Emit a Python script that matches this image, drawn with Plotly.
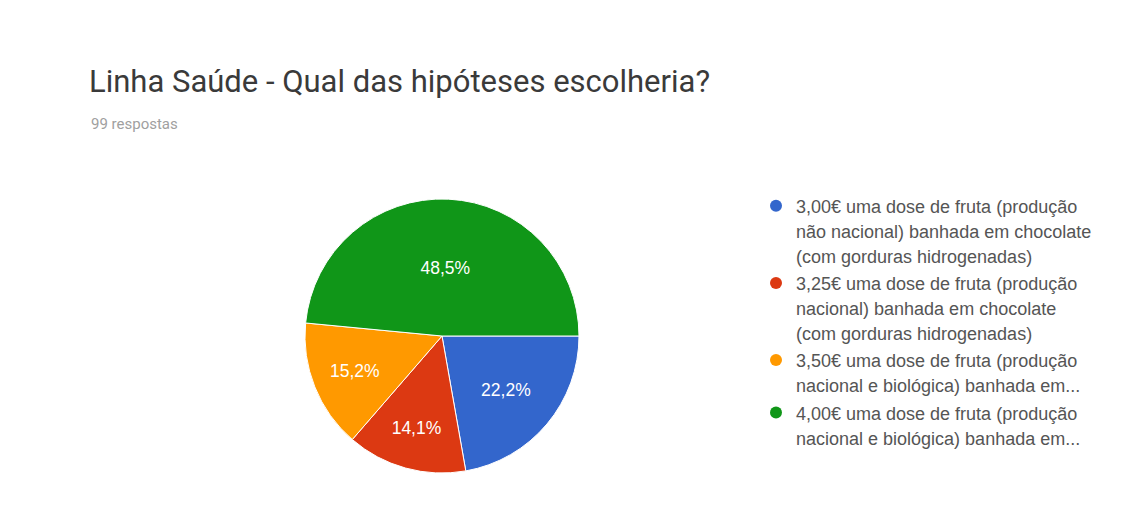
import plotly.graph_objects as go

title = "Linha Saúde - Qual das hipóteses escolheria?"
subtitle = "99 respostas"
labels = [
    "3,00€ uma dose de fruta (produção<br>não nacional) banhada em chocolate<br>(com gorduras hidrogenadas)",
    "3,25€ uma dose de fruta (produção<br>nacional) banhada em chocolate<br>(com gorduras hidrogenadas)",
    "3,50€ uma dose de fruta (produção<br>nacional e biológica) banhada em...",
    "4,00€ uma dose de fruta (produção<br>nacional e biológica) banhada em...",
]
counts = [22, 14, 15, 48]
colors = ["#3366cc", "#dc3912", "#ff9900", "#109618"]

W, H = 1131, 525
cx, cy, r = 442, 336, 137

fig = go.Figure()
fig.add_trace(go.Pie(
    labels=labels, values=counts, sort=False, direction="clockwise", rotation=90,
    marker=dict(colors=colors, line=dict(color="white", width=1)),
    texttemplate="%{percent:.1%}", textposition="inside",
    insidetextfont=dict(color="white", size=17.5, family="Liberation Sans"),
    showlegend=False, hoverinfo="label+percent",
    domain=dict(x=[(cx - r) / W, (cx + r) / W], y=[(H - cy - r) / H, (H - cy + r) / H]),
))

for lab, col in zip(labels, colors):
    fig.add_trace(go.Scatter(
        x=[None], y=[None], mode="markers", name=f'<span style="font-size:18px">{lab}</span>',
        marker=dict(color=col, size=14, symbol="circle"),
        showlegend=True,
    ))

fig.update_layout(
    width=W, height=H,
    margin=dict(l=0, r=0, t=0, b=0),
    paper_bgcolor="white", plot_bgcolor="white",
    separators=",.",
    font=dict(family="Liberation Sans", color="#555555"),
    xaxis=dict(visible=False), yaxis=dict(visible=False),
    legend=dict(
        x=756 / W, y=(H - 187) / H, xanchor="left", yanchor="top",
        font=dict(size=19, color="#555555", family="Liberation Sans"),
        valign="top", itemsizing="constant", tracegroupgap=0,
        bgcolor="rgba(0,0,0,0)",
    ),
    annotations=[
        dict(text=title, x=87 / W, y=(H - 61) / H, xref="paper", yref="paper",
             xanchor="left", yanchor="top", showarrow=False,
             font=dict(size=31, color="#3a3a3a", family="Roboto")),
        dict(text=subtitle, x=89 / W, y=(H - 113) / H, xref="paper", yref="paper",
             xanchor="left", yanchor="top", showarrow=False,
             font=dict(size=15, color="#a0a0a0", family="Roboto")),
    ],
)

fig.write_html("out.html")
